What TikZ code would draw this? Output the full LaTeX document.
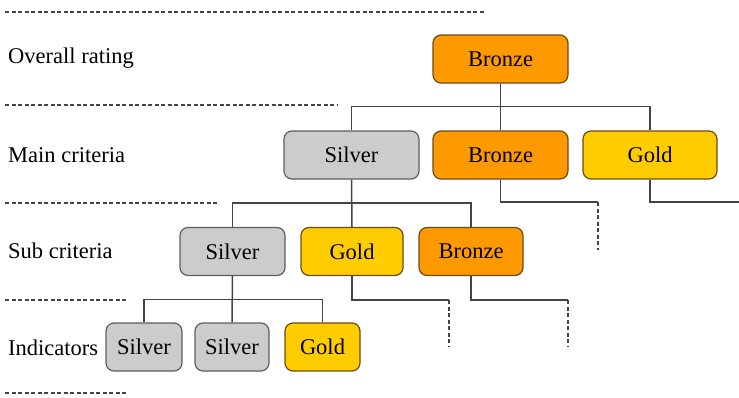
\documentclass[tikz,border=0pt]{standalone}
\usepackage{fontspec}
\setmainfont{Liberation Serif}
\definecolor{bronzefill}{HTML}{FF9900}
\definecolor{goldfill}{HTML}{FFCC00}
\definecolor{silverfill}{HTML}{CCCCCC}
\definecolor{warmedge}{HTML}{6B4A1E}
\definecolor{greyedge}{HTML}{5E5E5E}
\definecolor{linkgrey}{HTML}{444444}
\begin{document}
\begin{tikzpicture}[x=1pt,y=1pt,
		font=\fontsize{22.5}{26}\selectfont,
		medal/.style={rectangle,rounded corners=8pt,line width=1.2pt,minimum height=48pt,inner sep=2pt},
		bronze/.style={medal,fill=bronzefill,draw=warmedge},
		gold/.style={medal,fill=goldfill,draw=warmedge},
		silver/.style={medal,fill=silverfill,draw=greyedge},
		link/.style={draw=linkgrey,line width=1.5pt},
		sep/.style={draw=linkgrey,line width=1.2pt,dash pattern=on 4pt off 2.5pt}]
		\useasboundingbox (0,0) rectangle (739,-397);
		% level separators
		\draw[sep] (5,-12) -- (485,-12);
		\draw[sep] (5,-105) -- (337,-105);
		\draw[sep] (5,-203) -- (218,-203);
		\draw[sep] (5,-300) -- (128,-300);
		\draw[sep] (5,-393) -- (128,-393);
		% level names
		\node[anchor=west,inner sep=0pt] (lo) at (8,-58) {Overall rating};
		\node[anchor=west,inner sep=0pt] (lm) at (8,-155) {Main criteria};
		\node[anchor=west,inner sep=0pt] (ls) at (8,-251) {Sub criteria};
		\node[anchor=west,inner sep=0pt] (li) at (8,-348) {Indicators};
		% overall
		\node[bronze,minimum width=135pt] (top) at (500.5,-59) {Bronze};
		% main criteria
		\node[silver,minimum width=135pt] (ms) at (351.5,-155) {Silver};
		\node[bronze,minimum width=135pt] (mb) at (500.5,-155) {Bronze};
		\node[gold,minimum width=134pt] (mg) at (650,-155) {Gold};
		% sub criteria
		\node[silver,minimum width=105pt] (ss) at (232.5,-251.5) {Silver};
		\node[gold,minimum width=102pt] (sg) at (352,-251.5) {Gold};
		\node[bronze,minimum width=104pt] (sb) at (471,-251.5) {Bronze};
		% indicators
		\node[silver,minimum width=76pt] (i1) at (144,-347) {Silver};
		\node[silver,minimum width=74pt] (i2) at (232,-347) {Silver};
		\node[gold,minimum width=75pt] (i3) at (322.5,-347) {Gold};
		% open ends
		\coordinate (mbx) at (598,-202);
		\coordinate (mbe) at (598,-250);
		\coordinate (mgx) at (739,-202);
		\coordinate (sgx) at (449,-300);
		\coordinate (sge) at (449,-347);
		\coordinate (sbx) at (568,-300);
		\coordinate (sbe) at (568,-347);
		% tree
		\draw[link] (top.south) -- (mb.north);
		\draw[link] (ms.north) -- ++(0,24) -| (mg.north);
		\draw[link] (ms.south) -- (sg.north);
		\draw[link] (ss.north) -- ++(0,24) -| (sb.north);
		\draw[link] (ss.south) -- (i2.north);
		\draw[link] (i1.north) -- ++(0,23) -| (i3.north);
		\draw[link] (mb.south) |- (mbx);
		\draw[sep] (mbx) -- (mbe);
		\draw[link] (mg.south) |- (mgx);
		\draw[link] (sg.south) |- (sgx);
		\draw[sep] (sgx) -- (sge);
		\draw[link] (sb.south) |- (sbx);
		\draw[sep] (sbx) -- (sbe);
	\end{tikzpicture}
\end{document}
